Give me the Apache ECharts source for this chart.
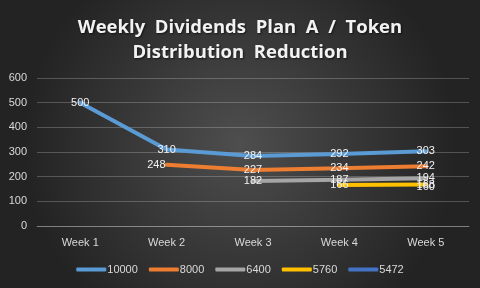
<!DOCTYPE html>
<html>
<head>
<meta charset="utf-8">
<script src="https://cdn.jsdelivr.net/npm/echarts@6/dist/echarts.min.js"></script>
<style>
  html, body { margin: 0; padding: 0; }
  #chart { width: 480px; height: 288px; }
</style>
</head>
<body>
<div id="chart"></div>
<script>
const weeks = ['Week 1', 'Week 2', 'Week 3', 'Week 4', 'Week 5']
const plan10000 = [500, 310, 284, 292, 303]
const plan8000 = [null, 248, 227, 234, 242]
const plan6400 = [null, null, 182, 187, 194]
const plan5760 = [null, null, null, 166, 168]
const plan5472 = [null, null, null, null, 160]
const yTicks = [0, 100, 200, 300, 400, 500, 600]

const seriesDefs = [
  { name: '10000', data: plan10000, color: '#5b9bd5' },
  { name: '8000', data: plan8000, color: '#ed7d31' },
  { name: '6400', data: plan6400, color: '#a5a5a5' },
  { name: '5760', data: plan5760, color: '#ffc000' },
  { name: '5472', data: plan5472, color: '#4472c4' },
]

const chart = echarts.init(document.getElementById('chart'))

// first point of each series gets its label nudged left, like the original
function withLabelPos(data) {
  const first = data.findIndex((v) => v != null)
  return data.map((v, i) =>
    i === first && i > 0 && v != null ? { value: v, label: { position: 'left', distance: 0 } } : v
  )
}

chart.setOption({
  backgroundColor: new echarts.graphic.RadialGradient(0.5, 0.5, 0.75, [
    { offset: 0, color: '#4e4e4e' },
    { offset: 1, color: '#232323' },
  ]),
  animation: false,
  title: {
    text: 'Weekly  Dividends  Plan  A  /  Token\nDistribution  Reduction',
    left: 'center',
    top: 10,
    textStyle: {
      color: '#f2f2f2',
      fontFamily: 'Open Sans',
      fontWeight: 'bold',
      fontSize: 18.5,
      lineHeight: 25,
      textShadowColor: 'rgba(0,0,0,0.6)',
      textShadowBlur: 2,
      textShadowOffsetX: 1,
      textShadowOffsetY: 1,
    },
  },
  grid: { left: 37, right: 11, top: 78, bottom: 62 },
  legend: {
    bottom: 8,
    left: 'center',
    itemWidth: 30,
    itemHeight: 4,
    itemGap: 11,
    icon: 'roundRect',
    textStyle: { color: '#d9d9d9', fontSize: 11, fontFamily: 'Liberation Sans', padding: [0, 0, 0, -4] },
    data: seriesDefs.map((s) => s.name),
  },
  xAxis: {
    type: 'category',
    data: weeks,
    boundaryGap: true,
    axisLine: { lineStyle: { color: 'rgba(255,255,255,0.25)' } },
    axisTick: { show: false },
    axisLabel: { color: '#d9d9d9', fontSize: 11, fontFamily: 'Liberation Sans', margin: 11 },
  },
  yAxis: {
    type: 'value',
    min: 0,
    max: 600,
    interval: 100,
    axisLine: { show: false },
    axisTick: { show: false },
    axisLabel: {
      color: '#d9d9d9',
      fontSize: 11,
      fontFamily: 'Liberation Sans',
      margin: 10,
      formatter: (v) => (yTicks.includes(v) ? String(v) : ''),
    },
    splitLine: { lineStyle: { color: 'rgba(255,255,255,0.22)' } },
  },
  series: seriesDefs.map((s) => ({
    name: s.name,
    type: 'line',
    data: s.name === '8000' ? withLabelPos(s.data) : s.data,
    symbol: 'circle',
    symbolSize: 2,
    showSymbol: true,
    connectNulls: false,
    lineStyle: { color: s.color, width: 4, cap: 'round' },
    itemStyle: { color: s.color },
    label: {
      show: true,
      position: 'inside',
      color: '#f2f2f2',
      fontSize: 11,
      fontFamily: 'Liberation Sans',
    },
  })),
})
</script>
</body>
</html>
